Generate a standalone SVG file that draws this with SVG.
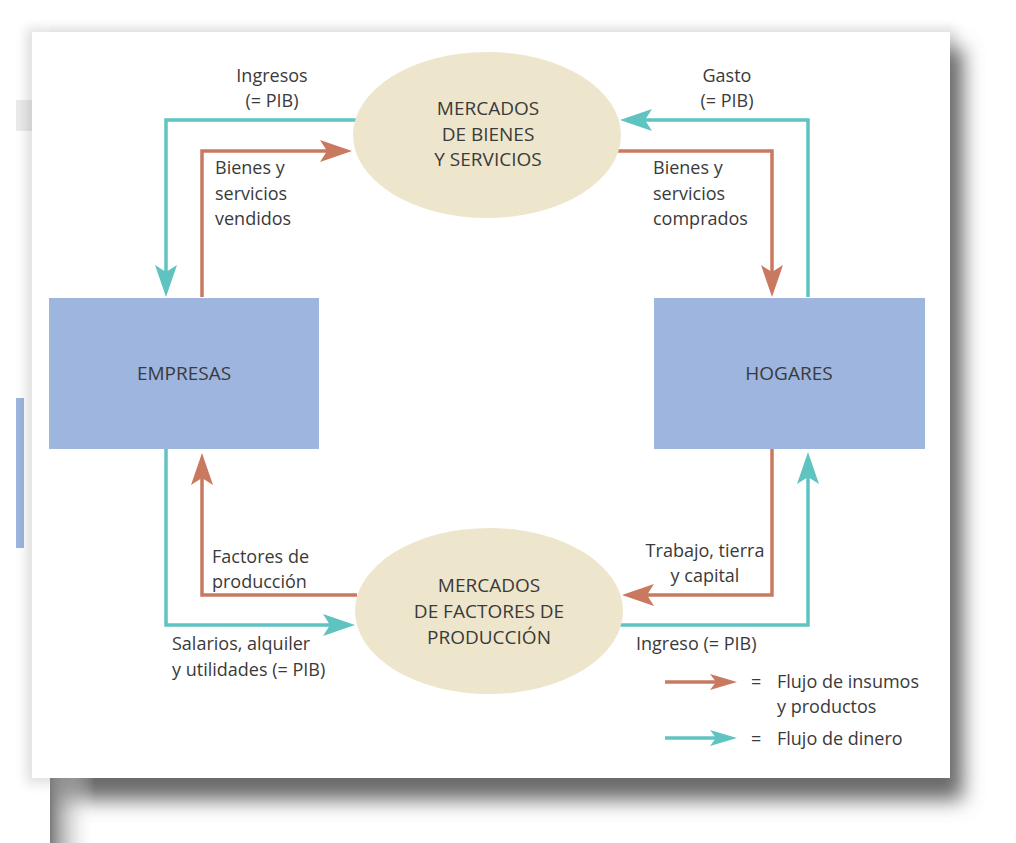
<svg xmlns="http://www.w3.org/2000/svg" width="1016" height="843" viewBox="0 0 1016 843">
<defs>
<style>
.t{font-family:"Open Sans","Noto Sans","Liberation Sans",sans-serif;font-size:18px;fill:#3a3a3a}
.c{font-size:19px;text-anchor:middle}
.m{text-anchor:middle}
.teal{fill:none;stroke:#5fc4c1;stroke-width:3.5}
.red{fill:none;stroke:#c9795f;stroke-width:3.5}
.box{fill:#9db5df}
.ell{fill:#eee6cc}
</style>
<marker id="at" markerUnits="userSpaceOnUse" markerWidth="32" markerHeight="22" refX="10" refY="11" orient="auto" viewBox="0 0 32 22"><path d="M0,0 L32,11 L0,22 L7,11 Z" fill="#5fc4c1"/></marker>
<marker id="ar" markerUnits="userSpaceOnUse" markerWidth="32" markerHeight="22" refX="10" refY="11" orient="auto" viewBox="0 0 32 22"><path d="M0,0 L32,11 L0,22 L7,11 Z" fill="#c9795f"/></marker>
<marker id="lt" markerUnits="userSpaceOnUse" markerWidth="27" markerHeight="16" refX="8" refY="8" orient="auto" viewBox="0 0 27 16"><path d="M0,0 L27,8 L0,16 L6,8 Z" fill="#5fc4c1"/></marker>
<marker id="lr" markerUnits="userSpaceOnUse" markerWidth="27" markerHeight="16" refX="8" refY="8" orient="auto" viewBox="0 0 27 16"><path d="M0,0 L27,8 L0,16 L6,8 Z" fill="#c9795f"/></marker>
<filter id="blur" x="-10%" y="-10%" width="120%" height="120%"><feGaussianBlur stdDeviation="10"/></filter>
<filter id="blur2" x="-10%" y="-10%" width="120%" height="120%"><feGaussianBlur stdDeviation="6"/></filter>
<linearGradient id="lg" x1="0" y1="0" x2="1" y2="0"><stop offset="0" stop-color="#7a7a7a"/><stop offset="1" stop-color="#ffffff" stop-opacity="0"/></linearGradient>
<clipPath id="cp"><rect x="50" y="0" width="966" height="843"/></clipPath>
</defs>
<rect width="1016" height="843" fill="#ffffff"/>
<g id="background">
<rect x="16" y="100" width="30" height="31" fill="#ebebeb"/>
<rect x="16" y="398" width="8" height="150" fill="#9db5df"/>
<rect x="26" y="28" width="930" height="756" fill="#000" opacity="0.12" filter="url(#blur2)"/>
<g clip-path="url(#cp)"><rect x="45" y="48" width="918" height="752" fill="#6a6a6a" filter="url(#blur)"/></g>
<rect x="50" y="778" width="45" height="65" fill="url(#lg)"/>
<rect x="32" y="32" width="918" height="746" fill="#ffffff"/>
</g>
<g id="connectors">
<path class="teal" d="M357,120 H166 V275" marker-end="url(#at)"/>
<path class="red" d="M202,297 V151 H330" marker-end="url(#ar)"/>
<path class="red" d="M618,151 H772 V275" marker-end="url(#ar)"/>
<path class="teal" d="M808,297 V120 H642" marker-end="url(#at)"/>
<path class="red" d="M357,595 H202 V475" marker-end="url(#ar)"/>
<path class="teal" d="M166,449 V625 H333" marker-end="url(#at)"/>
<path class="red" d="M772,449 V595 H644" marker-end="url(#ar)"/>
<path class="teal" d="M620,625 H808 V474" marker-end="url(#at)"/>
</g>
<g id="mercado-bienes">
<ellipse class="ell" cx="487" cy="135" rx="134" ry="83"/>
<text class="t c" x="488" y="115">MERCADOS</text>
<text class="t c" x="488" y="141">DE BIENES</text>
<text class="t c" x="488" y="166">Y SERVICIOS</text>
</g>
<g id="mercado-factores">
<ellipse class="ell" cx="489" cy="611" rx="134" ry="83"/>
<text class="t c" x="489" y="592">MERCADOS</text>
<text class="t c" x="489" y="618">DE FACTORES DE</text>
<text class="t c" x="489" y="644">PRODUCCIÓN</text>
</g>
<g id="empresas">
<rect class="box" x="49" y="298" width="270" height="151"/>
<text class="t c" x="184" y="380">EMPRESAS</text>
</g>
<g id="hogares">
<rect class="box" x="654" y="298" width="271" height="151"/>
<text class="t c" x="789" y="380">HOGARES</text>
</g>
<g id="labels">
<text class="t m" x="272" y="82">Ingresos</text>
<text class="t m" x="272" y="107">(= PIB)</text>
<text class="t m" x="727" y="82">Gasto</text>
<text class="t m" x="727" y="107">(= PIB)</text>
<text class="t" x="215" y="174">Bienes y</text>
<text class="t" x="215" y="200">servicios</text>
<text class="t" x="215" y="225">vendidos</text>
<text class="t" x="653" y="174">Bienes y</text>
<text class="t" x="653" y="200">servicios</text>
<text class="t" x="653" y="225">comprados</text>
<text class="t" x="212" y="563">Factores de</text>
<text class="t" x="212" y="588">producción</text>
<text class="t m" x="705" y="557">Trabajo, tierra</text>
<text class="t m" x="705" y="582">y capital</text>
<text class="t" x="172" y="650">Salarios, alquiler</text>
<text class="t" x="172" y="676">y utilidades (= PIB)</text>
<text class="t" x="636" y="650">Ingreso (= PIB)</text>
</g>
<g id="legend">
<path class="red" d="M665,682 H718" marker-end="url(#lr)"/>
<text class="t" x="751" y="688">=</text>
<text class="t" x="777" y="688">Flujo de insumos</text>
<text class="t" x="777" y="713">y productos</text>
<path class="teal" d="M665,738 H718" marker-end="url(#lt)"/>
<text class="t" x="751" y="745">=</text>
<text class="t" x="777" y="745">Flujo de dinero</text>
</g>
</svg>
